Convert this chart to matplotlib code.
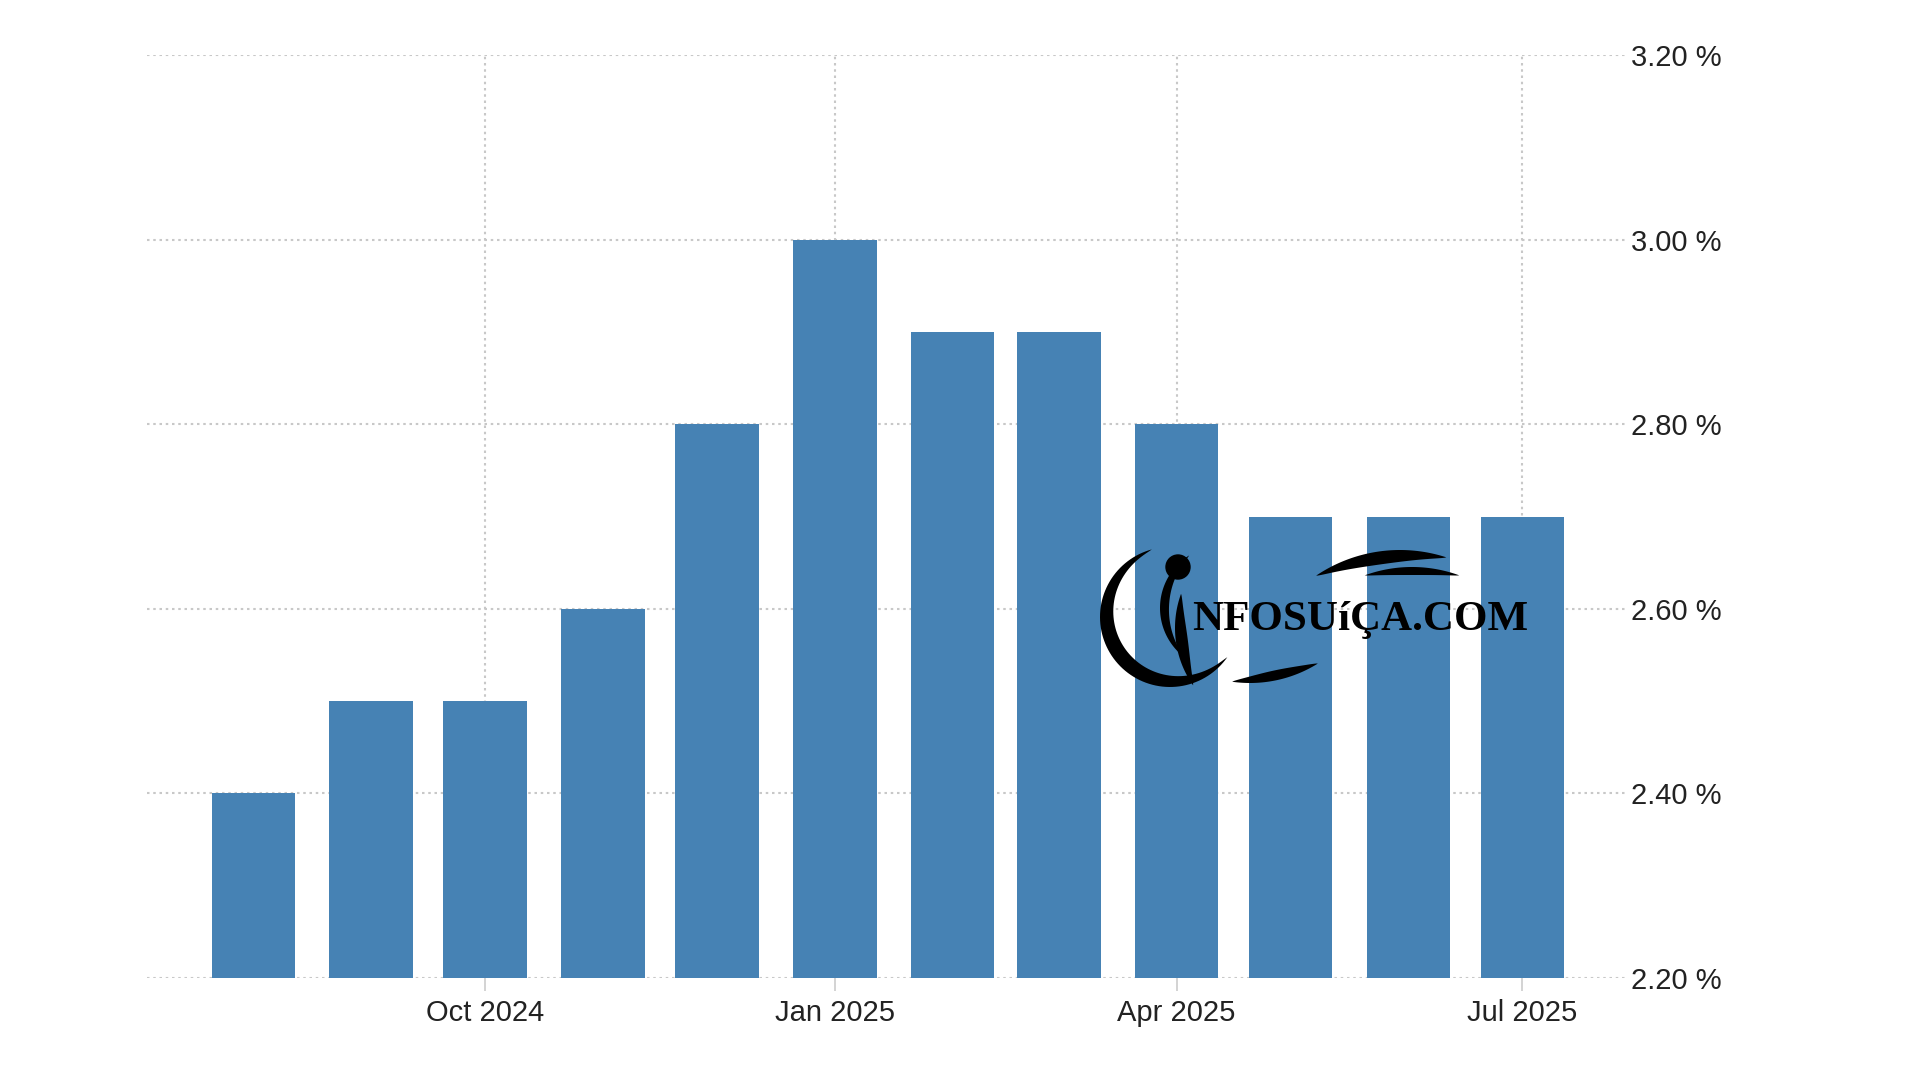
import numpy as np
import matplotlib
matplotlib.use("Agg")
import matplotlib.pyplot as plt
import matplotlib.dates as mdates
from matplotlib.patches import Polygon, Circle
from datetime import datetime

# dados (taxa mensal, %)
months = ["2024-08", "2024-09", "2024-10", "2024-11", "2024-12", "2025-01",
          "2025-02", "2025-03", "2025-04", "2025-05", "2025-06", "2025-07"]
values = [2.4, 2.5, 2.5, 2.6, 2.8, 3.0, 2.9, 2.9, 2.8, 2.7, 2.7, 2.7]
y_ticks = [2.2, 2.4, 2.6, 2.8, 3.0, 3.2]
x_ticks = ["2024-10", "2025-01", "2025-04", "2025-07"]

dates = [datetime.strptime(m, "%Y-%m") for m in months]
tick_dates = [datetime.strptime(m, "%Y-%m") for m in x_ticks]

plt.rcParams['font.family'] = ['Liberation Sans', 'DejaVu Sans']

fig = plt.figure(figsize=(19.2, 10.8), dpi=100)
ax = fig.add_axes([147 / 1920, 102 / 1080, (1625 - 147) / 1920, (1025 - 102) / 1080])

# barras
ax.bar(dates, values, width=22, color="#4682b4", zorder=2)

ax.set_ylim(2.2, 3.2)
ax.set_xlim(datetime(2024, 7, 4), datetime(2025, 7, 28))

# eixos
ax.set_yticks(y_ticks)
ax.set_yticklabels([f"{v:.2f} %" for v in y_ticks])
ax.yaxis.tick_right()
ax.tick_params(axis="y", length=0, pad=4, labelsize=21, labelcolor="#222222")

ax.set_xticks(tick_dates)
ax.xaxis.set_major_formatter(mdates.DateFormatter("%b %Y"))
ax.tick_params(axis="x", length=9, width=1.2, color="#cccccc", pad=6,
               labelsize=21, labelcolor="#222222")

for s in ax.spines.values():
    s.set_visible(False)

ax.grid(True, which="major", axis="both", linestyle=(0, (1.2, 1.8)),
        color="#c8c8c8", linewidth=1.5, zorder=0)
ax.set_axisbelow(True)

# marca d'agua (logo)
lg = fig.add_axes([0, 0, 1, 1], zorder=5)
lg.set_xlim(0, 1920)
lg.set_ylim(1080, 0)
lg.axis("off")


def swoosh(cx, cy, r, a0, a1, w):
    t = np.radians(np.linspace(a0, a1, 80))
    th = w * np.sin(np.pi * np.linspace(0, 1, 80)) ** 0.8
    outer = np.column_stack([cx + r * np.cos(t), cy - r * np.sin(t)])
    inner = np.column_stack([cx + (r - th) * np.cos(t), cy - (r - th) * np.sin(t)])
    lg.add_patch(Polygon(np.vstack([outer, inner[::-1]]), closed=True,
                         facecolor="black", edgecolor="none"))


swoosh(1170, 617, 70, 105, 325, 15)
swoosh(1222, 608, 62, 122, 232, 9)
swoosh(1275, 628, 100, 160, 215, 12)
swoosh(1400, 700, 150, 124, 72, 13)
swoosh(1412, 705, 138, 110, 70, 8)
swoosh(1250, 555, 128, -98, -58, 10)
lg.add_patch(Circle((1178, 567), 12, color="black"))
lg.text(1192, 630, "NFOSUíÇA.COM", fontsize=31, family="Liberation Serif",
        weight="bold", color="black", ha="left", va="baseline")

fig.savefig("out.png", dpi=100)
